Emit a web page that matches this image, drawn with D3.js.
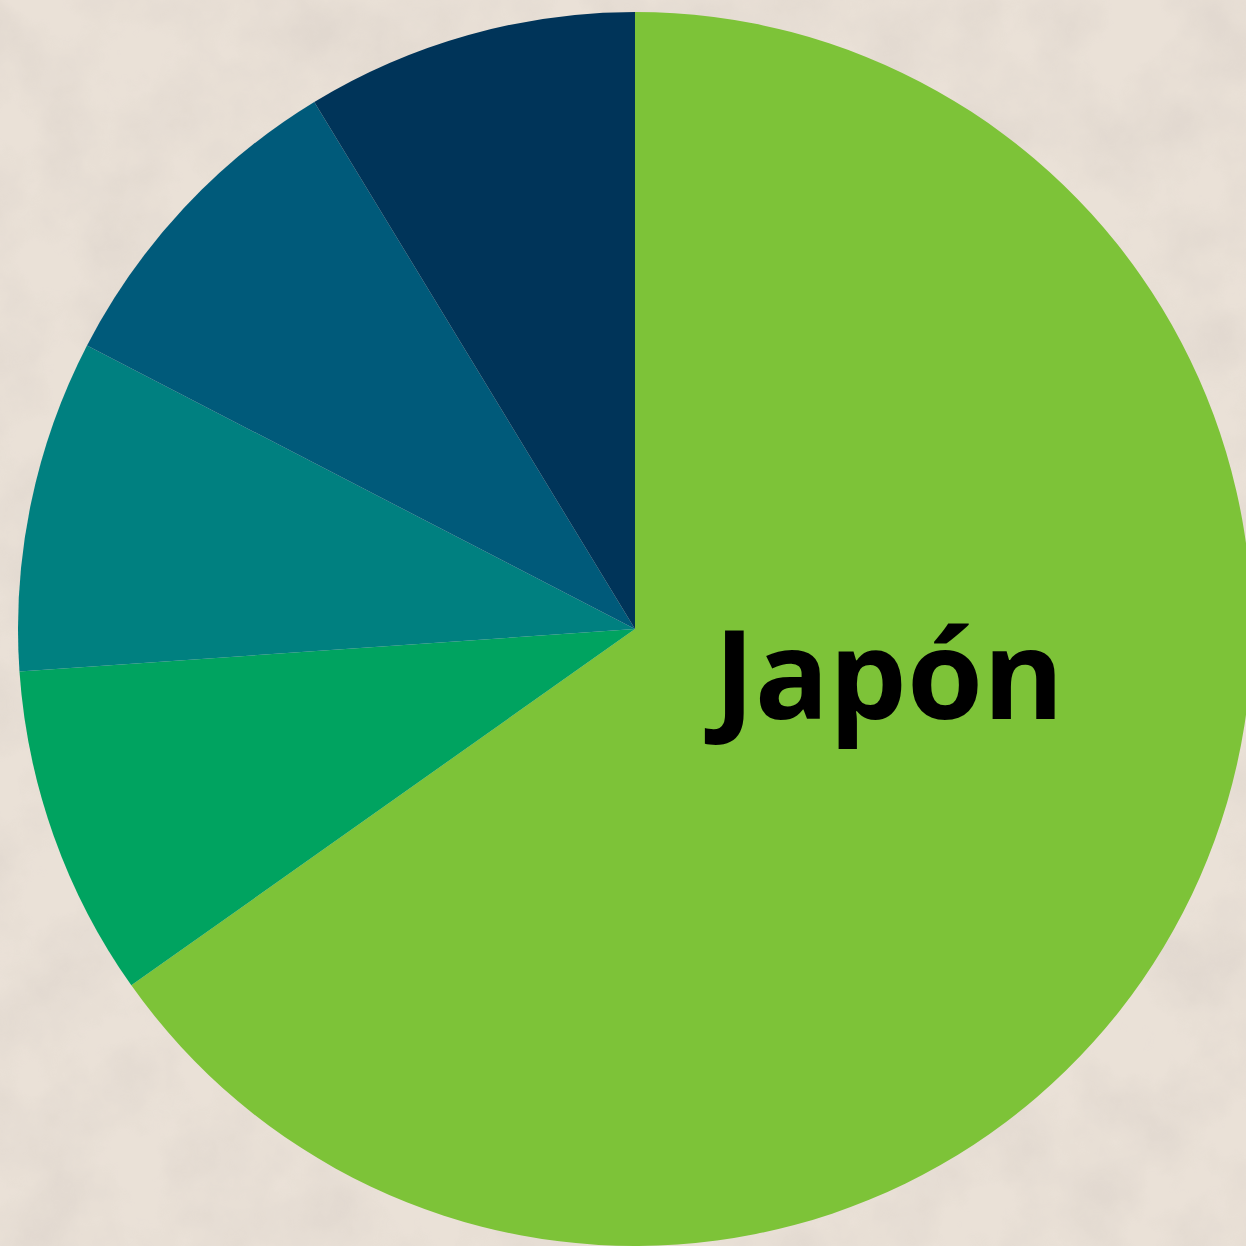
<!DOCTYPE html>
<html>
<head>
<meta charset="utf-8">
<script src="https://cdn.jsdelivr.net/npm/d3@7"></script>
<style>
  html, body { margin: 0; padding: 0; background: #E9E0D6; }
  svg { display: block; }
</style>
</head>
<body>
<svg id="chart" width="1246" height="1246"></svg>
<script>
// Country shares (clockwise from 12 o'clock)
const categories = ["Japón", "B", "C", "D", "E"];
const values = [65.2, 8.7, 8.7, 8.7, 8.7];
const colors = ["#7DC338", "#00A360", "#008080", "#005A7A", "#003459"];
const labels = ["Japón", "", "", "", ""];

const W = 1246, H = 1246;
const cx = 635, cy = 629, radius = 617;

const svg = d3.select("#chart");

// Paper-like textured background
const defs = svg.append("defs");
const f = defs.append("filter").attr("id", "paper")
  .attr("x", 0).attr("y", 0).attr("width", "100%").attr("height", "100%");
f.append("feTurbulence").attr("type", "fractalNoise")
  .attr("baseFrequency", 0.012).attr("numOctaves", 5).attr("seed", 7).attr("result", "noise");
f.append("feColorMatrix").attr("in", "noise").attr("type", "matrix")
  .attr("values", "0 0 0 0 0.55  0 0 0 0 0.5  0 0 0 0 0.47  0 0 0 -1.6 1.05")
  .attr("result", "tint");
f.append("feComposite").attr("in", "tint").attr("in2", "SourceGraphic").attr("operator", "in");

svg.append("rect").attr("width", W).attr("height", H).attr("fill", "#EAE1D7");
svg.append("rect").attr("width", W).attr("height", H).attr("fill", "#EAE1D7")
  .attr("filter", "url(#paper)").attr("opacity", 0.28);

const data = categories.map((c, i) => ({ name: c, value: values[i], color: colors[i], label: labels[i] }));

const pie = d3.pie().sort(null).value(d => d.value);
const arc = d3.arc().innerRadius(0).outerRadius(radius);

const g = svg.append("g").attr("transform", `translate(${cx},${cy})`);

const arcs = pie(data);

g.selectAll("path.slice")
  .data(arcs)
  .join("path")
  .attr("class", "slice")
  .attr("d", arc)
  .attr("fill", d => d.data.color);

// Label for the main slice
const labelArc = d3.arc().innerRadius(radius * 0.48).outerRadius(radius * 0.48);
g.selectAll("text.lbl")
  .data(arcs.filter(d => d.data.label))
  .join("text")
  .attr("class", "lbl")
  .attr("x", d => labelArc.centroid(d)[0] - 9)
  .attr("y", 90)
  .attr("text-anchor", "middle")
  .attr("font-family", "'Open Sans', sans-serif")
  .attr("font-weight", 700)
  .attr("font-size", 123)
  .attr("fill", "#000")
  .text(d => d.data.label);
</script>
</body>
</html>
